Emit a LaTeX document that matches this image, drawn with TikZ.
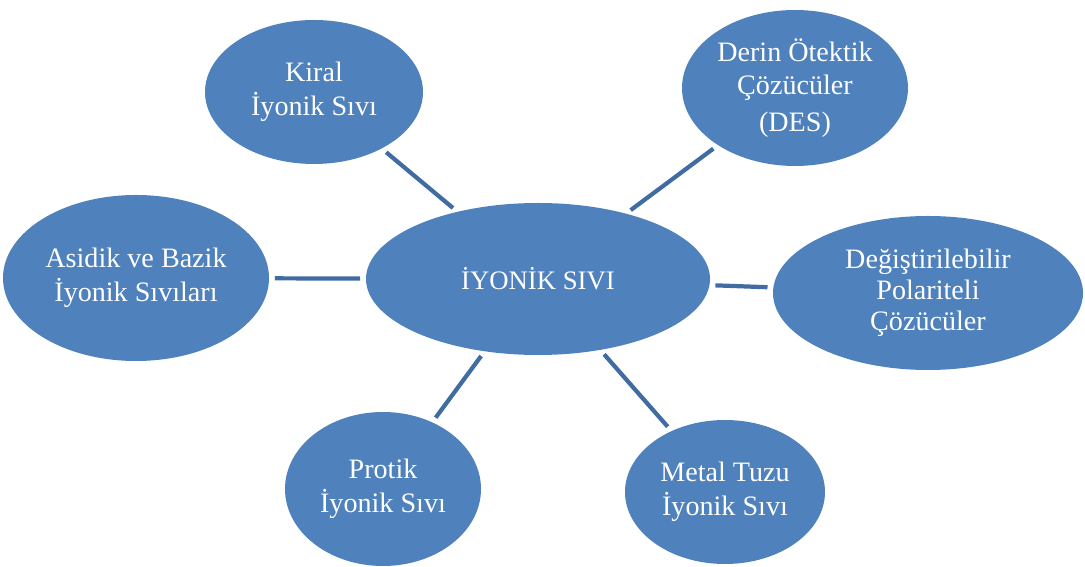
\documentclass[tikz,border=0pt]{standalone}
\usepackage{fontspec}
\setmainfont{Liberation Serif}
\usepackage{xcolor}
\usetikzlibrary{shapes}

\definecolor{ilblue}{RGB}{79,129,189}
\definecolor{linkblue}{RGB}{64,108,162}

\begin{document}
\begin{tikzpicture}[
	bubble/.style={ellipse, fill=ilblue, draw=none, text=white, align=center, inner sep=0pt, font=\fontsize{20}{24}\selectfont},
	link/.style={draw=linkblue, line width=3pt, shorten <=4pt, shorten >=4pt}]

	\useasboundingbox (0,0) rectangle (27.125,14.175);

	% centre
	\node[bubble, minimum width=8.6cm, minimum height=3.8cm, font=\fontsize{19}{23}\selectfont] (iyonik) at (13.45,7.2) {İYONİK SIVI};

	% kinds
	\node[bubble, minimum width=5.45cm, minimum height=3.6cm]  (kiral)  at (7.85,11.875)  {Kiral\\İyonik Sıvı};
	\node[bubble, minimum width=5.65cm, minimum height=3.9cm]  (des)    at (19.875,11.975) {Derin Ötektik\\Çözücüler\\[2pt](DES)};
	\node[bubble, minimum width=6.65cm, minimum height=4.15cm] (asidik) at (3.4,7.225)    {Asidik ve Bazik\\İyonik Sıvıları};
	\node[bubble, minimum width=7.75cm, minimum height=3.85cm] (polar)  at (23.2,6.85)    {Değiştirilebilir\\[-2pt]Polariteli\\[-2pt]Çözücüler};
	\node[bubble, minimum width=4.9cm, minimum height=3.85cm]  (protik) at (9.575,1.95)   {Protik\\İyonik Sıvı};
	\node[bubble, minimum width=5.0cm, minimum height=3.6cm]   (metal)  at (18.125,1.875) {Metal Tuzu\\İyonik Sıvı};

	% Links
	\draw[link] (iyonik) -- (kiral);
	\draw[link] (iyonik) -- (des);
	\draw[link] (iyonik) -- (asidik);
	\draw[link] (iyonik) -- (polar);
	\draw[link] (iyonik) -- (protik);
	\draw[link] (iyonik) -- (metal);

\end{tikzpicture}
\end{document}
